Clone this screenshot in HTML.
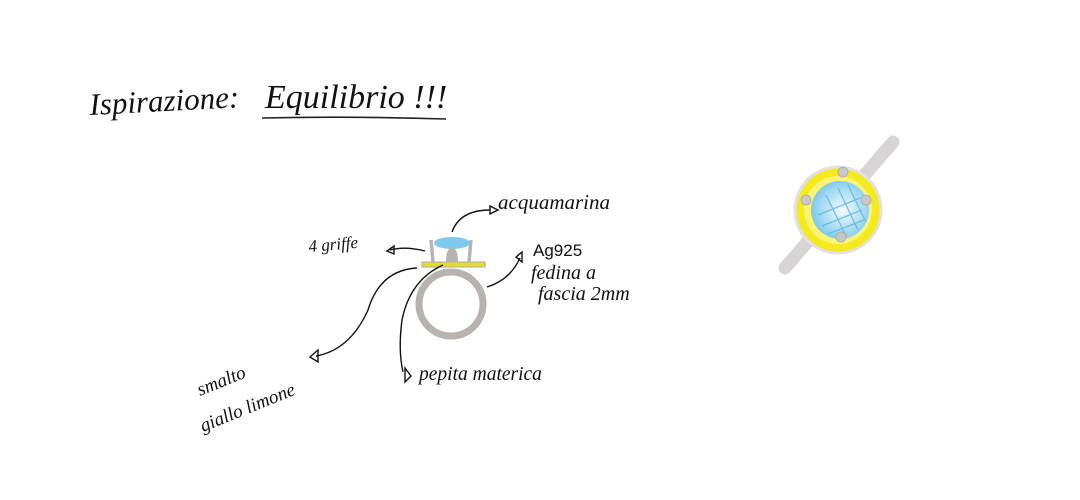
<!DOCTYPE html>
<html><head><meta charset="utf-8"><style>
html,body{margin:0;padding:0;background:#fff;}
svg{display:block;}
text{font-family:"Liberation Serif",serif;font-style:italic;fill:#111;}
</style></head><body>
<svg width="1080" height="500" viewBox="0 0 1080 500" xmlns="http://www.w3.org/2000/svg">
<defs>
<radialGradient id="blue" cx="0.55" cy="0.5" r="0.6">
<stop offset="0" stop-color="#f4fbff"/><stop offset="0.6" stop-color="#a8dcf2"/><stop offset="1" stop-color="#6cc4ea"/>
</radialGradient>
</defs>
<!-- title -->
<text x="90" y="115" font-size="31" transform="rotate(-3 90 115)">Ispirazione:</text>
<text x="265" y="108" font-size="34">Equilibrio !!!</text>
<path d="M262 118 Q350 116 446 119" stroke="#222" stroke-width="1.6" fill="none"/>

<!-- left ring -->
<circle cx="451" cy="304" r="32" fill="none" stroke="#b9b3b0" stroke-width="7"/>
<rect x="422" y="262" width="63" height="5" fill="#e4dd20" stroke="#b9b3b0" stroke-width="1.2"/>
<path d="M446 262 Q446 248 452 248 Q458 248 458 262" fill="#b9b3b0"/>
<ellipse cx="452" cy="243" rx="18" ry="6" fill="#7ccbee"/>
<path d="M431 240 L433 262 M471 240 L469 262 M451 247 L451 262" stroke="#b9b3b0" stroke-width="3.5"/>

<!-- connectors -->
<g stroke="#111" stroke-width="1.4" fill="none">
<path d="M452 232 Q460 210 490 210"/>
<path d="M490 206 L498 210 L490 214 Z"/>
<path d="M425 251 Q405 246 390 250"/>
<path d="M394 246 L387 251 L394 254 Z"/>
<path d="M487 287 Q510 280 520 258"/>
<path d="M516 257 L522 252 L522 262 Z"/>
<path d="M417 268 Q380 270 368 310 Q350 350 316 356"/>
<path d="M318 350 L310 357 L318 362 Z"/>
<path d="M443 265 Q410 280 402 320 Q398 350 403 372"/>
<path d="M405 368 L411 376 L405 382 Z"/>
</g>

<!-- labels -->
<text x="498" y="209" font-size="21">acquamarina</text>
<text x="309" y="252" font-size="17" transform="rotate(-5 309 252)">4 griffe</text>
<text x="533" y="256" font-size="17" style="font-style:normal;font-family:'Liberation Sans',sans-serif">Ag925</text>
<text x="531" y="279" font-size="20">fedina a</text>
<text x="538" y="300" font-size="20">fascia 2mm</text>
<text x="419" y="380" font-size="19.5">pepita materica</text>
<text x="200" y="396" font-size="19" transform="rotate(-22 200 396)">smalto</text>
<text x="203" y="432" font-size="19" transform="rotate(-22 203 432)">giallo limone</text>

<!-- right ring -->
<line x1="785" y1="268" x2="893" y2="142" stroke="#d6d4d4" stroke-width="13" stroke-linecap="round"/>
<circle cx="838" cy="210" r="43" fill="#f5ea1e" stroke="#e2e0e0" stroke-width="3"/>
<circle cx="838" cy="210" r="34" fill="#fff9b0" opacity="0.6"/>
<circle cx="840" cy="210" r="29" fill="url(#blue)"/>
<g stroke="#5cb4e0" stroke-width="1.3" fill="none" opacity="0.8">
<path d="M818 215 L860 198 M822 226 L862 210 M828 234 L864 220"/>
<path d="M826 195 L846 236 M838 188 L858 230 M848 185 L866 222"/>
</g>
<g fill="#c8c8c8" stroke="#aaa" stroke-width="0.8">
<circle cx="843" cy="172" r="5"/><circle cx="806" cy="200" r="5"/>
<circle cx="866" cy="200" r="5"/><circle cx="841" cy="237" r="5"/>
</g>
</svg>
</body></html>
